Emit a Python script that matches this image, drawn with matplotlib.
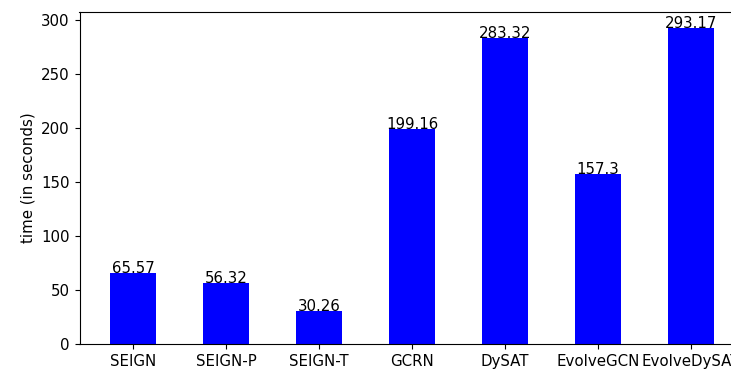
import matplotlib.pyplot as plt
import numpy as np

models = ['SEIGN', 'SEIGN-P', 'SEIGN-T', 'GCRN', 'DySAT', 'EvolveGCN', 'EvolveDySAT']
times = [65.57, 56.32, 30.26, 199.16, 283.32, 157.3, 293.17]

plt.rcParams['font.size'] = 10.8

fig = plt.figure(figsize=(7.31, 3.71), dpi=100)
# axes run a bit past the right edge of the figure
ax = fig.add_axes([79.5 / 731, 27 / 371, 665 / 731, 332 / 371])

x = np.arange(len(models))
ax.bar(x, times, width=0.5, color='blue')
for xi, t in zip(x, times):
    ax.text(xi, t, str(t), ha='center')

ax.set_xticks(x)
ax.set_xticklabels(models)
ax.set_ylabel('time (in seconds)')

fig.savefig('out.png', dpi=100)
